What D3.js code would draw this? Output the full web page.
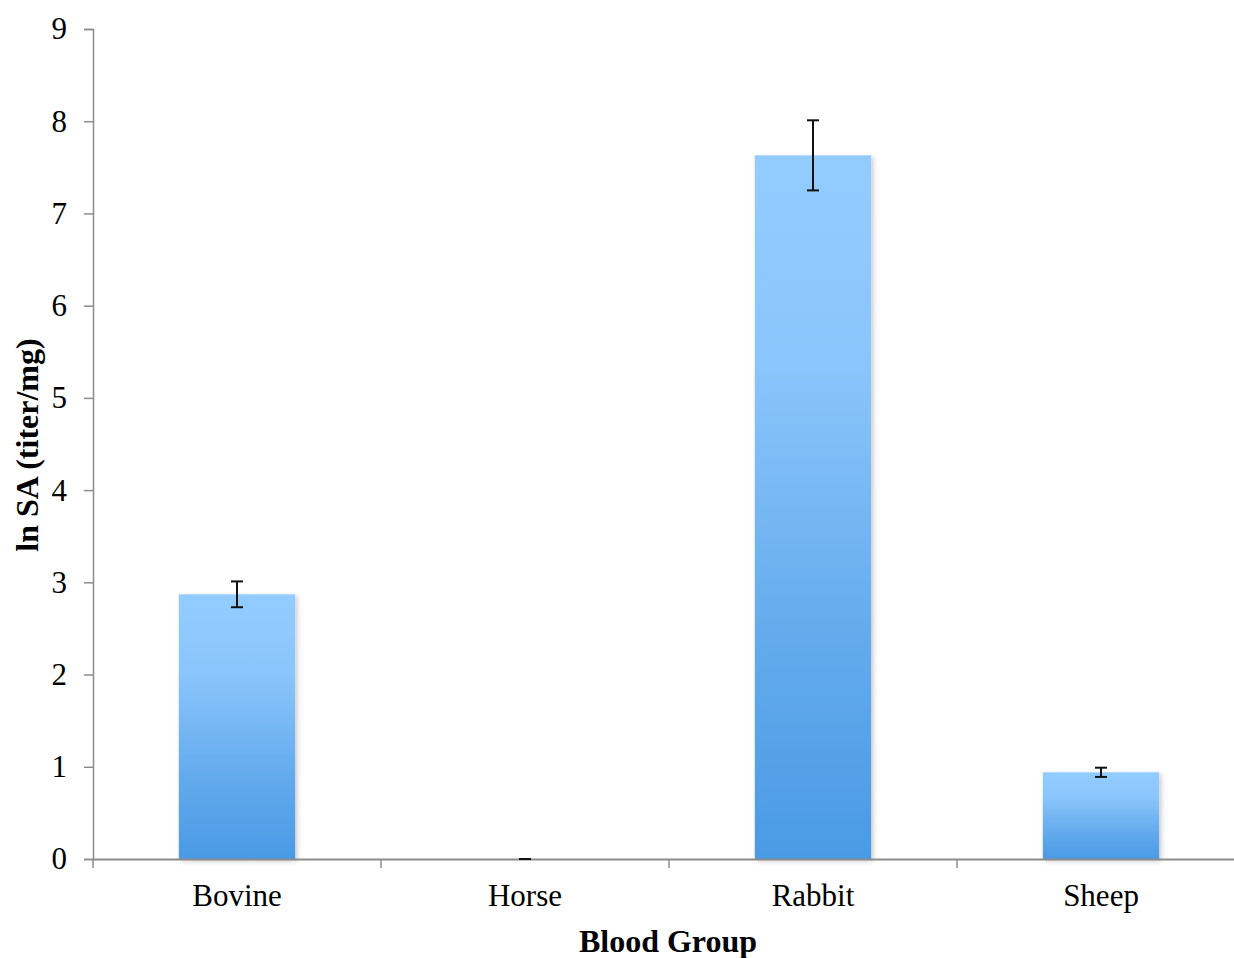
<!DOCTYPE html>
<html>
<head>
<meta charset="utf-8">
<script src="https://cdn.jsdelivr.net/npm/d3@7"></script>
<style>
  html, body { margin: 0; padding: 0; background: #fff; }
  svg { display: block; }
</style>
</head>
<body>
<svg id="chart" width="1234" height="958"></svg>
<script>
const categories = ["Bovine", "Horse", "Rabbit", "Sheep"];
const values = [2.87, 0, 7.63, 0.94];
const errors = [0.14, 0, 0.38, 0.05];
const yTicks = [0, 1, 2, 3, 4, 5, 6, 7, 8, 9];
const xTitle = "Blood Group";
const yTitle = "ln SA (titer/mg)";

const svg = d3.select("#chart");
const mLeft = 93, mRight = 1245, mTop = 29, mBottom = 859;
const font = "'Liberation Serif', 'Times New Roman', serif";

const x = d3.scaleBand().domain(categories).range([mLeft, mRight]).paddingInner(0).paddingOuter(0);
const y = d3.scaleLinear().domain([0, 9]).range([mBottom, mTop]);
const barW = x.bandwidth() * 0.404;

const defs = svg.append("defs");
const grad = defs.append("linearGradient").attr("id", "barGrad")
  .attr("x1", 0).attr("y1", 0).attr("x2", 0).attr("y2", 1);
[[0, "#93ccff"], [0.3, "#8ac5fb"], [0.7, "#62aaec"], [1, "#4a9ae5"]].forEach(([o, c]) =>
  grad.append("stop").attr("offset", o).attr("stop-color", c));
const filt = defs.append("filter").attr("id", "shadow")
  .attr("x", "-10%").attr("y", "-10%").attr("width", "130%").attr("height", "130%");
filt.append("feDropShadow").attr("dx", 2).attr("dy", 2).attr("stdDeviation", 2.5)
  .attr("flood-color", "#000").attr("flood-opacity", 0.22);

// bars
svg.append("g").selectAll("rect").data(categories).join("rect")
  .attr("x", d => x(d) + x.bandwidth() / 2 - barW / 2)
  .attr("y", (d, i) => y(values[i]))
  .attr("width", barW)
  .attr("height", (d, i) => y(0) - y(values[i]))
  .attr("fill", "url(#barGrad)")
  .attr("filter", "url(#shadow)");

// axes
const yAxis = d3.axisLeft(y).tickValues(yTicks).tickSize(9).tickPadding(17).tickFormat(d3.format("d"));
const gy = svg.append("g").attr("transform", `translate(${mLeft},0)`).call(yAxis);
gy.select(".domain").attr("stroke", "#8c8c8c").attr("stroke-width", 1.5);
gy.selectAll(".tick line").attr("stroke", "#8c8c8c").attr("stroke-width", 1.5);
gy.selectAll(".tick text").attr("font-family", font).attr("font-size", 31).attr("fill", "#000");

const xAxis = d3.axisBottom(x).tickSize(0).tickPadding(0);
const gx = svg.append("g").attr("transform", `translate(0,${mBottom})`).call(xAxis);
gx.select(".domain").attr("stroke", "#8c8c8c").attr("stroke-width", 2);
gx.selectAll(".tick text").attr("font-family", font).attr("font-size", 31).attr("fill", "#000")
  .attr("dy", "1.5em");
// category boundary ticks
const bounds = categories.map(c => x(c)).concat([mRight]);
gx.selectAll(".bound").data(bounds).join("line").attr("class", "bound")
  .attr("x1", d => d).attr("x2", d => d).attr("y1", 0).attr("y2", 9)
  .attr("stroke", "#8c8c8c").attr("stroke-width", 1.5);

// error bars
const eb = svg.append("g").attr("stroke", "#111").attr("stroke-width", 2);
categories.forEach((c, i) => {
  const cx = x(c) + x.bandwidth() / 2;
  const hi = y(values[i] + errors[i]), lo = y(values[i] - errors[i]);
  eb.append("line").attr("x1", cx).attr("x2", cx).attr("y1", hi).attr("y2", lo);
  eb.append("line").attr("x1", cx - 6).attr("x2", cx + 6).attr("y1", hi).attr("y2", hi);
  eb.append("line").attr("x1", cx - 6).attr("x2", cx + 6).attr("y1", lo).attr("y2", lo);
});

// titles
svg.append("text").attr("x", 668).attr("y", 952).attr("text-anchor", "middle")
  .attr("font-family", font).attr("font-weight", "bold").attr("font-size", 32).text(xTitle);
svg.append("text").attr("transform", "translate(38,445) rotate(-90)").attr("text-anchor", "middle")
  .attr("font-family", font).attr("font-weight", "bold").attr("font-size", 32).text(yTitle);
</script>
</body>
</html>
